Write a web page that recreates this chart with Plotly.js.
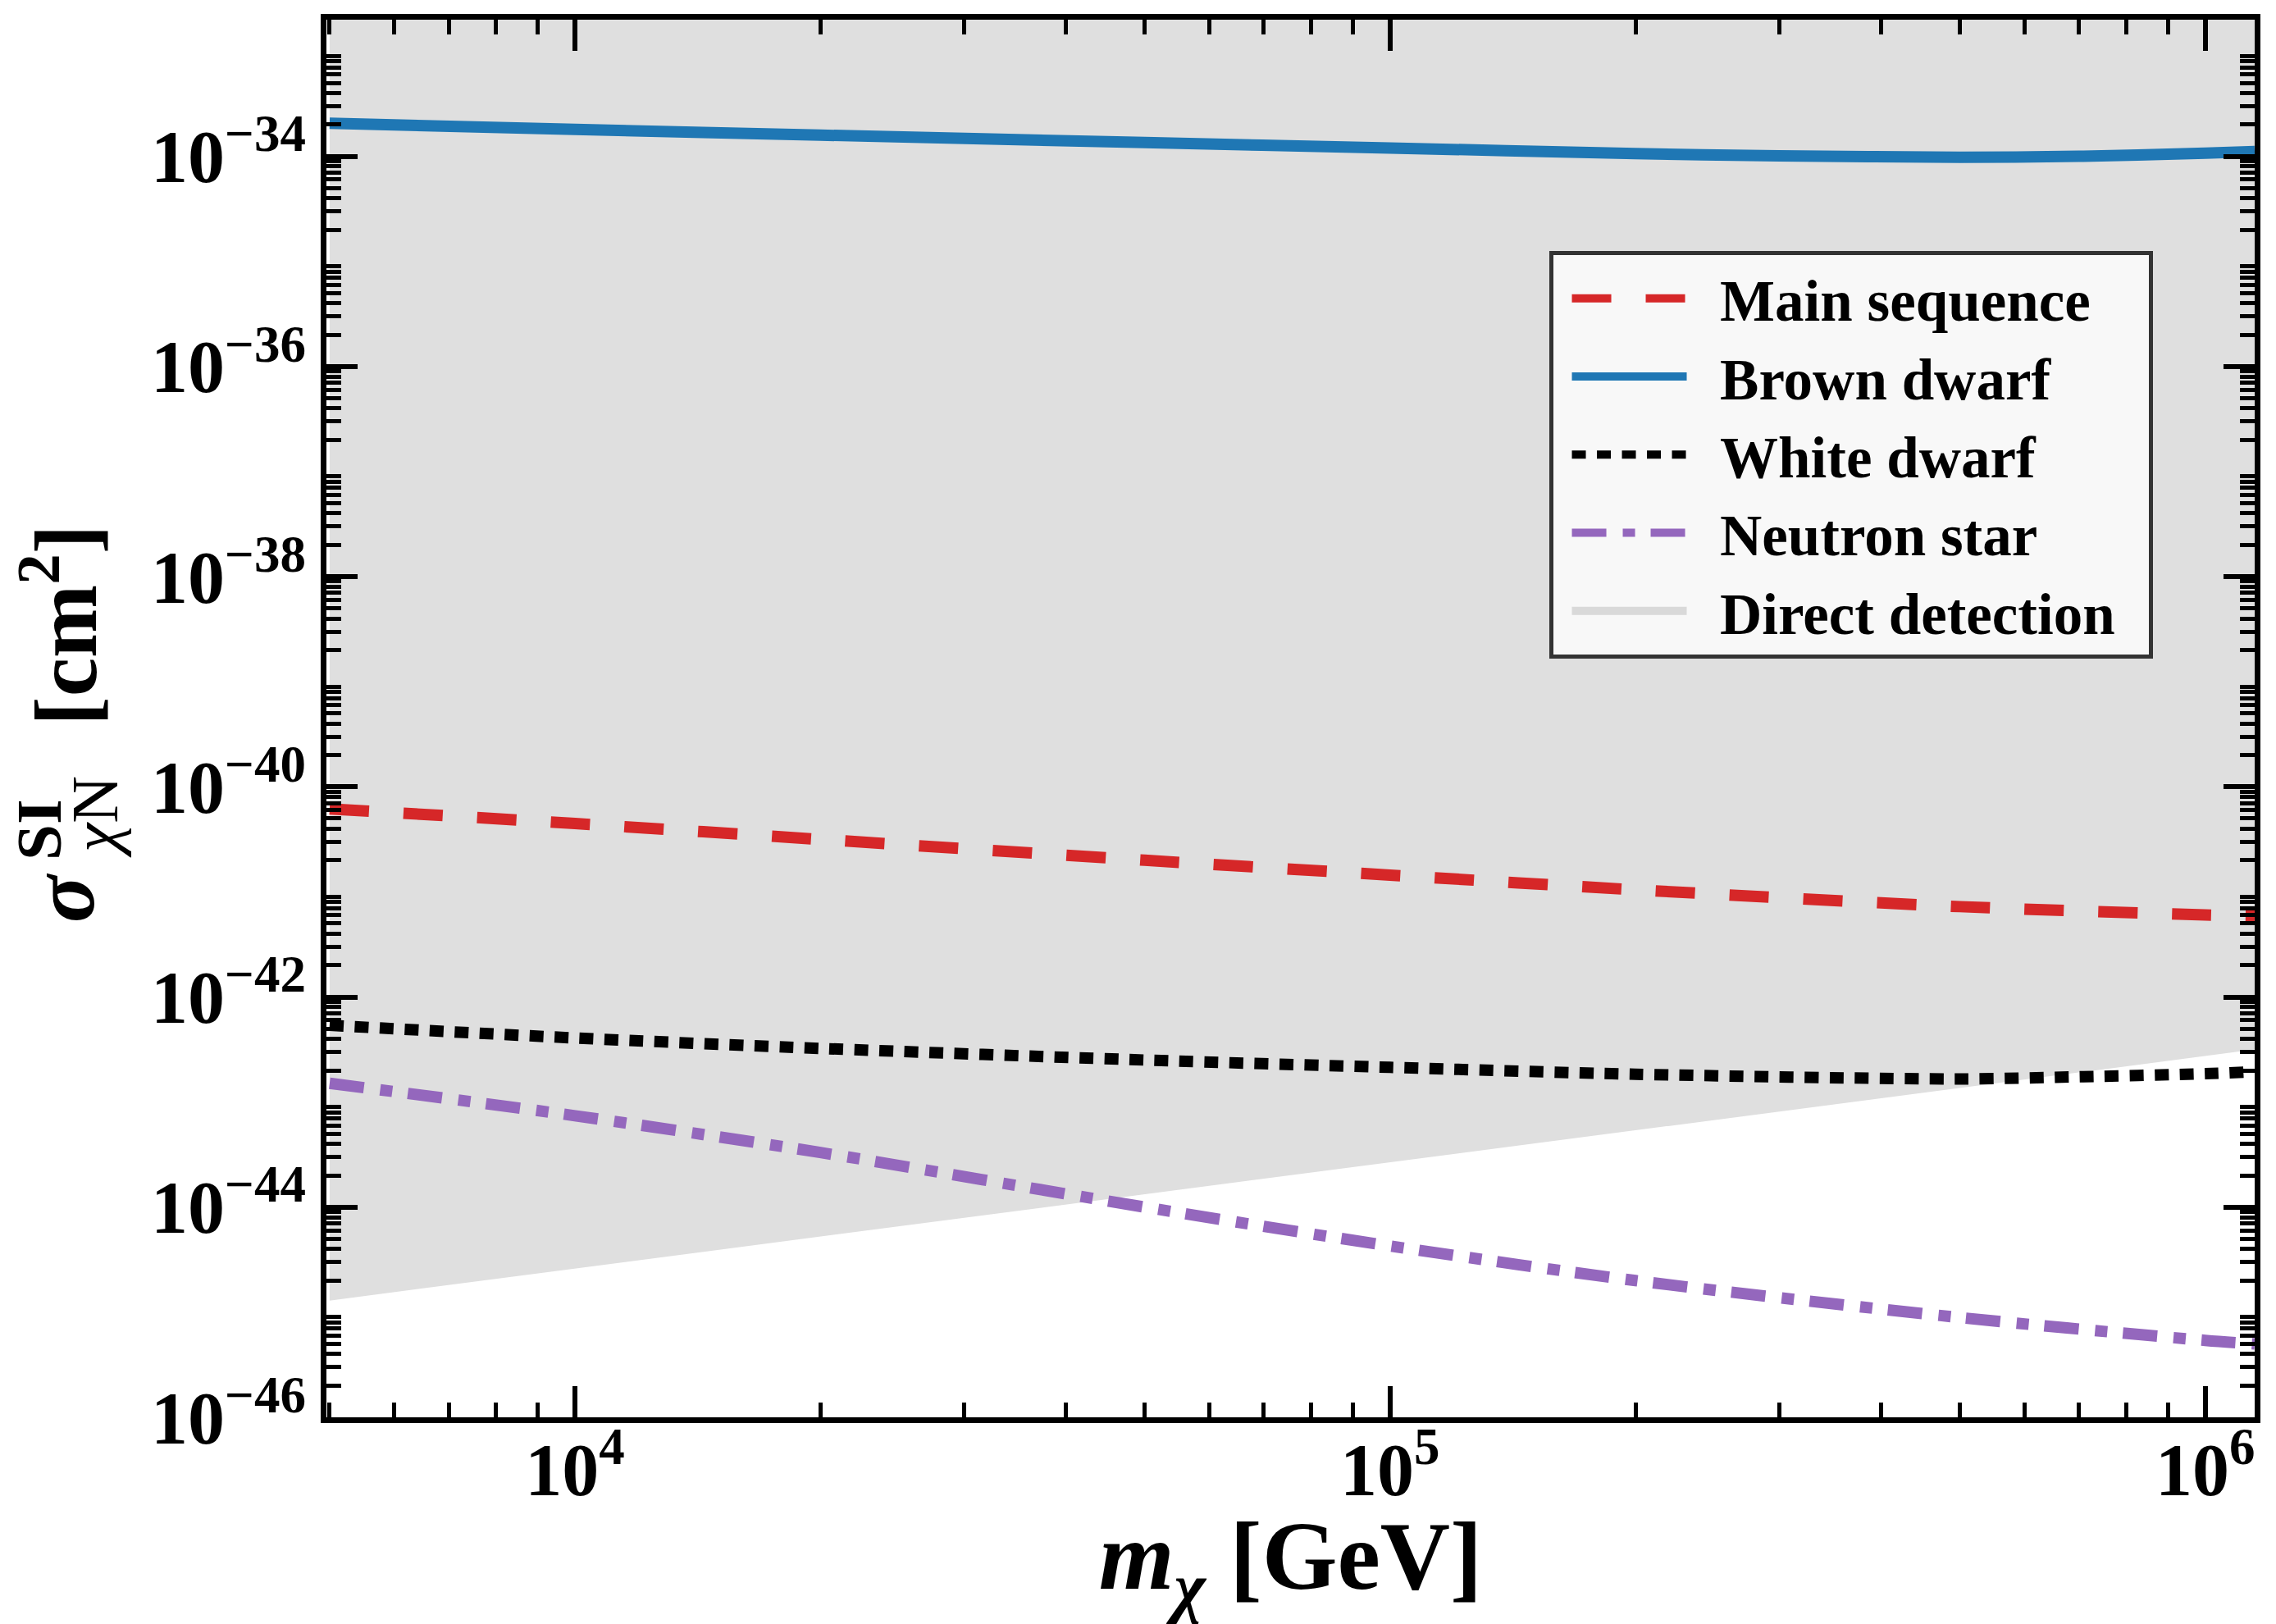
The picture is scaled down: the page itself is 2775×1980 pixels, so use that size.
<!DOCTYPE html>
<html>
<head>
<meta charset="utf-8">
<script src="https://cdn.plot.ly/plotly-3.0.1.min.js"></script>
<style>
html, body { margin: 0; padding: 0; background: #ffffff; }
#chart { width: 2775px; height: 1980px; }
</style>
</head>
<body>
<div id="chart"></div>
<script>
// ---- data (m_chi in GeV, sigma in cm^2) ----
const massMS = [5000, 1e4, 2e4, 5e4, 1e5, 2e5, 5e5, 1e6, 1.15e6];
const sigmaMS = [6.17e-41, 4.47e-41, 3.16e-41, 2.0e-41, 1.445e-41, 1.047e-41, 7.24e-42, 6.03e-42, 5.89e-42];

const massBD = [5000, 1e4, 2e4, 5e4, 1e5, 2e5, 3e5, 5e5, 7e5, 1e6, 1.15e6];
const sigmaBD = [2.06e-34, 1.80e-34, 1.59e-34, 1.35e-34, 1.20e-34, 1.06e-34, 1.01e-34, 9.8e-35, 1.0e-34, 1.07e-34, 1.11e-34];

const massWD = [5000, 1e4, 2e4, 5e4, 1e5, 2e5, 5e5, 7e5, 1e6, 1.15e6];
const sigmaWD = [5.37e-43, 4.07e-43, 3.24e-43, 2.51e-43, 2.14e-43, 1.84e-43, 1.66e-43, 1.74e-43, 1.86e-43, 1.95e-43];

const massNS = [5000, 1e4, 2e4, 5e4, 1e5, 2e5, 5e5, 1e6, 1.15e6];
const sigmaNS = [1.51e-43, 7.41e-44, 3.31e-44, 1.0e-44, 4.27e-45, 2.0e-45, 8.9e-46, 5.4e-46, 5.0e-46];

// direct-detection exclusion: lower boundary; excluded region lies above it
const massDD = [5000, 1.15e6];
const sigmaDD = [1.29e-45, 3.16e-43];
const sigmaDDupper = [1e-30, 1e-30];

const seriesNames = ['Main sequence', 'Brown dwarf', 'White dwarf', 'Neutron star', 'Direct detection'];

// axis tick labels
const xTickVals = [1e4, 1e5, 1e6];
const xTickText = ['10<sup>4</sup>', '10<sup>5</sup>', '10<sup>6</sup>'];
const yLabelDecades = [-46, -44, -42, -40, -38, -36, -34];
const yTickText = ['10<sup>\u221246</sup>', '10<sup>\u221244</sup>', '10<sup>\u221242</sup>', '10<sup>\u221240</sup>',
  '10<sup>\u221238</sup>', '10<sup>\u221236</sup>', '10<sup>\u221234</sup>'];
const yUnlabelledDecades = [-45, -43, -41, -39, -37, -35, -33];

// ---- axis helpers (minor ticks at 2..9 x 10^n) ----
function minorLog(lo, hi) {
  const out = [];
  for (let e = Math.floor(Math.log10(lo)); e <= Math.ceil(Math.log10(hi)); e++) {
    for (let k = 2; k <= 9; k++) {
      const v = k * Math.pow(10, e);
      if (v >= lo && v <= hi) out.push(v);
    }
  }
  return out;
}
const pow10 = d => Math.pow(10, d);

const FONT = 'Liberation Serif, Times New Roman, serif';
const PAD = '\u00a0\u00a0';

const ddX = massDD.concat(massDD.slice().reverse());
const ddY = sigmaDD.concat(sigmaDDupper.slice().reverse());

const traces = [
  {
    x: ddX, y: ddY, type: 'scatter', mode: 'lines', fill: 'toself',
    fillcolor: 'rgb(223,223,223)', line: { width: 0, color: 'rgb(223,223,223)' },
    showlegend: false, hoverinfo: 'skip'
  },
  {
    // legend entry for the exclusion region (drawn along its upper edge, outside the view)
    x: massDD, y: sigmaDDupper, type: 'scatter', mode: 'lines',
    line: { color: 'rgb(217,217,217)', width: 48 },
    name: PAD + seriesNames[4] + PAD, legendrank: 5, hoverinfo: 'skip'
  },
  {
    x: massMS, y: sigmaMS, type: 'scatter', mode: 'lines', name: PAD + seriesNames[0], legendrank: 1,
    line: { color: '#d62728', width: 14, dash: '48px,42px', shape: 'spline', smoothing: 0.8 }
  },
  {
    x: massBD, y: sigmaBD, type: 'scatter', mode: 'lines', name: PAD + seriesNames[1], legendrank: 2,
    line: { color: '#1f77b4', width: 14, shape: 'spline', smoothing: 0.8 }
  },
  {
    x: massWD, y: sigmaWD, type: 'scatter', mode: 'lines', name: PAD + seriesNames[2], legendrank: 3,
    line: { color: '#000000', width: 14, dash: '17px,13.5px', shape: 'spline', smoothing: 0.8 }
  },
  {
    x: massNS, y: sigmaNS, type: 'scatter', mode: 'lines', name: PAD + seriesNames[3], legendrank: 4,
    line: { color: '#9467bd', width: 14, dash: '42px,20px,15px,19px', shape: 'spline', smoothing: 0.8 }
  }
];

const xRange = [Math.log10(4955), Math.log10(1.15e6)];
const yRange = [-46, -32.70];

const axisCommon = {
  type: 'log',
  showgrid: false, zeroline: false,
  showline: true, linecolor: '#000', linewidth: 7, mirror: 'ticks',
  ticks: 'inside', ticklen: 38, tickwidth: 6, tickcolor: '#000',
  tickmode: 'array',
  tickfont: { family: FONT, size: 90, color: '#000', weight: 'bold' }
};

const annFont = (size) => ({ family: FONT, size: size, color: '#000' });
const BOTTOM = 1728; // plot-area bottom in page pixels (height - margin.b)
const LEFT = 398;    // plot-area left in page pixels (margin.l)

const layout = {
  width: 2775, height: 1980,
  paper_bgcolor: '#ffffff', plot_bgcolor: '#ffffff',
  margin: { l: LEFT, r: 26, t: 24, b: 1980 - BOTTOM },
  showlegend: true,
  xaxis: Object.assign({}, axisCommon, {
    range: xRange,
    tickvals: xTickVals, ticktext: xTickText,
    ticklabelstandoff: -20,
    minor: { tickmode: 'array', tickvals: minorLog(4955, 1.15e6), ticks: 'inside', ticklen: 18, tickwidth: 5, tickcolor: '#000' },
    title: {
      text: '<i>m</i><sub><i>\u03c7</i></sub> [GeV]',
      font: { family: FONT, size: 118, color: '#000', weight: 'bold' },
      standoff: 36
    }
  }),
  yaxis: Object.assign({}, axisCommon, {
    range: yRange,
    tickvals: yLabelDecades.map(pow10), ticktext: yTickText,
    minor: { tickmode: 'array', tickvals: minorLog(1e-46, 2e-33), ticks: 'inside', ticklen: 18, tickwidth: 5, tickcolor: '#000' },
    title: { text: '' }
  }),
  // unlabelled major ticks at the odd decades
  yaxis2: Object.assign({}, axisCommon, {
    overlaying: 'y', side: 'left', anchor: 'x',
    range: yRange,
    tickvals: yUnlabelledDecades.map(pow10),
    showticklabels: false,
    title: { text: '' }
  }),
  legend: {
    x: 0.634, y: 0.8345, xanchor: 'left', yanchor: 'top',
    bgcolor: '#f8f8f8', bordercolor: '#333333', borderwidth: 5,
    font: { family: FONT, size: 71, color: '#000', weight: 'bold' },
    itemwidth: 140, indentation: 18
  },
  annotations: [
    { text: '<b><i>\u03c3</i></b>', xref: 'paper', yref: 'paper', x: 0, y: 0, xshift: 78 - LEFT, yshift: BOTTOM - 1095,
      textangle: -90, showarrow: false, xanchor: 'center', yanchor: 'middle', font: annFont(107) },
    { text: '<b>SI</b>', xref: 'paper', yref: 'paper', x: 0, y: 0, xshift: 47 - LEFT, yshift: BOTTOM - 1012,
      textangle: -90, showarrow: false, xanchor: 'center', yanchor: 'middle', height: 60, valign: 'middle',
      font: annFont(79) },
    { text: '<i>\u03c7</i>N', xref: 'paper', yref: 'paper', x: 0, y: 0, xshift: 116 - LEFT, yshift: BOTTOM - 996,
      textangle: -90, showarrow: false, xanchor: 'center', yanchor: 'middle', font: annFont(80) },
    { text: '<b>[cm<sup>2</sup>]</b>', xref: 'paper', yref: 'paper', x: 0, y: 0, xshift: 72 - LEFT, yshift: BOTTOM - 763,
      textangle: -90, showarrow: false, xanchor: 'center', yanchor: 'middle', font: annFont(107) }
  ]
};

Plotly.newPlot('chart', traces, layout, { displayModeBar: false, staticPlot: true });
</script>
</body>
</html>
